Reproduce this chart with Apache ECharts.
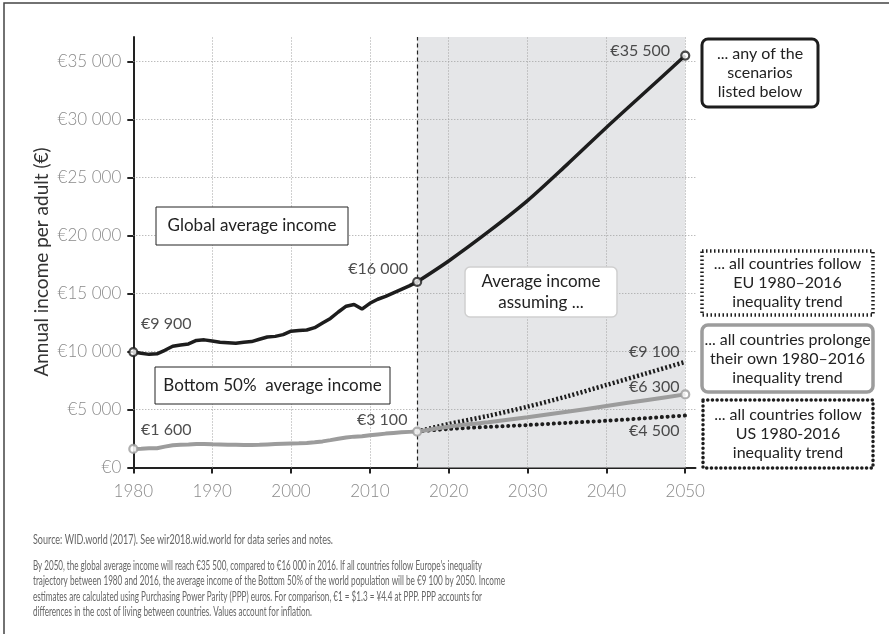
<!DOCTYPE html>
<html>
<head>
<meta charset="utf-8">
<script src="https://cdn.jsdelivr.net/npm/echarts@6/dist/echarts.min.js"></script>
<style>
html,body{margin:0;padding:0;background:#fff;}
#c{width:889px;height:634px;}
</style>
</head>
<body>
<div id="c"></div>
<script>
// ---------- DATA ----------
const histYears = [1980,1981,1982,1983,1984,1985,1986,1987,1988,1989,1990,1991,1992,1993,1994,1995,1996,1997,1998,1999,2000,2001,2002,2003,2004,2005,2006,2007,2008,2009,2010,2011,2012,2013,2014,2015,2016];
const globalHist = [9950,9850,9750,9800,10100,10450,10550,10650,10950,11000,10900,10800,10750,10700,10800,10850,11050,11250,11300,11450,11750,11800,11850,12050,12450,12850,13400,13900,14050,13650,14150,14500,14750,15050,15350,15650,16000];
const bottomHist = [1600,1620,1650,1660,1800,1920,1950,1980,2020,2030,2000,1980,1960,1950,1940,1940,1960,1990,2020,2050,2070,2090,2120,2170,2250,2360,2480,2590,2660,2700,2780,2850,2920,2980,3030,3070,3100];
const projYears = [2016,2020,2025,2030,2035,2040,2045,2050];
const globalProj = [16000,17800,20300,23000,26100,29300,32400,35500];
const bottomOwnProj = [3100,3520,3900,4330,4800,5300,5800,6300];
const bottomEUProj = [3100,3750,4450,5240,6130,7110,8100,9100];
const bottomUSProj = [3100,3320,3500,3660,3850,4030,4250,4480];
const xTicks = [1980,1990,2000,2010,2020,2030,2040,2050];
const yTicks = [0,5000,10000,15000,20000,25000,30000,35000];
const splitYear = 2016;
const endYear = 2050;
const globalLabels = [[1980,9950,'€9 900'],[2016,16000,'€16 000'],[2050,35500,'€35 500']];
const bottomLabels = [[1980,1600,'€1 600'],[2016,3100,'€3 100'],[2050,6300,'€6 300']];
const scenarioLabels = [[2050,9100,'€9 100'],[2050,4480,'€4 500']];
const yAxisTitle = 'Annual income per adult (€)';
const sourceText = 'Source: WID.world (2017). See wir2018.wid.world for data series and notes.';
const noteLines = [
 "By 2050, the global average income will reach €35 500, compared to €16 000 in 2016. If all countries follow Europe's inequality",
 "trajectory between 1980 and 2016, the average income of the Bottom 50% of the world population will be €9 100 by 2050. Income",
 "estimates are calculated using Purchasing Power Parity (PPP) euros. For comparison, €1 = $1.3 = ¥4.4 at PPP. PPP accounts for",
 "differences in the cost of living between countries. Values account for inflation."
];

// ---------- helpers ----------
const FONT = 'Lato';
const pair = (xs, ys) => xs.map((x, i) => [x, ys[i]]);
const fmtEuro = v => '€' + String(v).replace(/\B(?=(\d{3})+(?!\d))/g, ' ');
const BLACK = '#1d1d1d', GRAY = '#9c9c9c';

const labelOffsets = {
  '€9 900':[33,-28], '€16 000':[-39,-13], '€35 500':[-45,-5],
  '€1 600':[33,-19], '€3 100':[-35,-12], '€6 300':[-31,-8],
  '€9 100':[-31,-10], '€4 500':[-31,15]
};
function labelPoints(list){
  return list.map(d => ({value:[d[0], d[1]], label:{formatter:d[2], offset:labelOffsets[d[2]]}}));
}

const FOOT_SIZE = 13;
const mctx = document.createElement('canvas').getContext('2d');
mctx.font = FOOT_SIZE + 'px Lato';
const widthOf = t => mctx.measureText(t).width;

const chart = echarts.init(document.getElementById('c'), null, {renderer:'canvas'});

const graphics = [];
graphics.push({type:'rect', shape:{x:4, y:3, width:1000, height:1000}, style:{fill:'none', stroke:'#444', lineWidth:1.5}, silent:true, z:0});
function box(x, y, w, h, text, stroke, lw, dash, cap, r, lh, fs){
  graphics.push({type:'rect', shape:{x:x, y:y, width:w, height:h, r:r||0},
    style:{fill:'#fff', stroke:stroke, lineWidth:lw, lineDash:dash||null, lineCap:cap||'butt'}, z:100});
  graphics.push({type:'text', x:x + w/2, y:y + h/2, z:101,
    style:{text:text, fill:'#222', fontSize:fs||16, fontFamily:FONT, align:'center', verticalAlign:'middle', lineHeight:lh||19}});
}
box(156, 207, 192, 38, 'Global average income', '#222', 1, null, null, 0, 19, 17);
box(155, 367, 235, 37, 'Bottom 50%  average income', '#222', 1, null, null, 0, 19, 17);
box(465, 267, 152, 50, 'Average income\nassuming ...', '#cfcfcf', 1.5, null, null, 5, 21, 17);
box(702, 39, 116, 68, '... any of the\nscenarios\nlisted below', BLACK, 3, null, null, 6, 19);
box(702, 251, 171, 64, '... all countries follow\nEU 1980–2016\ninequality trend', BLACK, 3.5, [1.5, 2.5], 'butt', 0, 19);
box(702, 325, 171, 67, '... all countries prolonge\ntheir own 1980–2016\ninequality trend', GRAY, 3.5, null, null, 6, 19);
box(703, 400, 170, 68, '... all countries follow\nUS 1980-2016\ninequality trend', BLACK, 3.5, [0.1, 4.6], 'round', 0, 19);

graphics.push({type:'text', x:42, y:262, rotation:Math.PI/2, z:50,
  style:{text:yAxisTitle, fill:'#333', fontSize:19, fontFamily:FONT, align:'center', verticalAlign:'middle'}});

function footLine(t, y, targetW){
  graphics.push({type:'text', x:33, y:y, scaleX:targetW / widthOf(t),
    style:{text:t, fill:'#666', fontSize:FOOT_SIZE, fontFamily:FONT, verticalAlign:'middle'}});
}
footLine(sourceText, 540, 300);
const noteWidths = [449, 472, 449, 279];
noteLines.forEach((t, i) => footLine(t, 566 + i*15.3, noteWidths[i]));

const option = {
  backgroundColor:'#fff',
  animation:false,
  textStyle:{fontFamily:FONT},
  grid:{left:133.3, right:193.5, top:37, bottom:166.5, containLabel:false},
  xAxis:{
    type:'value', min:1980, max:2051.3, interval:10,
    axisLine:{lineStyle:{color:'#222', width:2}},
    axisTick:{show:true, length:6, lineStyle:{color:'#222', width:2}, customValues:xTicks},
    axisLabel:{color:'#8a8a8a', fontSize:17, fontWeight:300, margin:16, customValues:xTicks,
      formatter:v => xTicks.indexOf(v) >= 0 ? String(v) : ''},
    splitLine:{show:false}
  },
  yAxis:{
    type:'value', min:0, max:37100, interval:5000,
    axisLine:{show:true, lineStyle:{color:'#222', width:2}},
    axisTick:{show:true, length:6, lineStyle:{color:'#222', width:2}, customValues:yTicks},
    axisLabel:{color:'#8a8a8a', fontSize:17, fontWeight:300, margin:12, customValues:yTicks,
      formatter:v => yTicks.indexOf(v) >= 0 ? fmtEuro(v) : ''},
    splitLine:{show:false}
  },
  graphic:graphics,
  series:[
    {type:'line', data:[], silent:true, z:1,
      markArea:{silent:true, itemStyle:{color:'#e5e6e8'}, data:[[{xAxis:splitYear},{xAxis:endYear}]]}},
    {type:'line', data:[], silent:true, z:2,
      markLine:{silent:true, symbol:'none', label:{show:false},
        lineStyle:{color:'#a0a0a0', type:[1,2], width:1},
        data:[].concat(
          xTicks.filter(v => v > 1980).map(v => ({xAxis:v})),
          yTicks.filter(v => v > 0).map(v => ({yAxis:v})),
          [{xAxis:splitYear, lineStyle:{color:'#222', type:[4,3], width:1.2}}]
        )}},
    {type:'line', data:pair(projYears, bottomEUProj), smooth:0.3, showSymbol:false, z:5,
      lineStyle:{color:BLACK, width:4.5, type:[2, 2.2], cap:'butt'}},
    {type:'line', data:pair(projYears, bottomUSProj), smooth:0.3, showSymbol:false, z:5,
      lineStyle:{color:BLACK, width:4, type:[0.1, 5.6], cap:'round'}},
    {type:'line', data:pair(projYears, bottomOwnProj), smooth:0.3, showSymbol:false, z:6,
      lineStyle:{color:GRAY, width:4}},
    {type:'line', data:pair(histYears, bottomHist), showSymbol:false, z:6,
      lineStyle:{color:GRAY, width:4}},
    {type:'line', data:pair(projYears, globalProj), smooth:0.3, showSymbol:false, z:7,
      lineStyle:{color:BLACK, width:3.5}},
    {type:'line', data:pair(histYears, globalHist), showSymbol:false, z:7,
      lineStyle:{color:BLACK, width:3.5}},
    {type:'scatter', data:labelPoints(bottomLabels), z:9, symbol:'circle', symbolSize:8,
      itemStyle:{color:'#fff', borderColor:GRAY, borderWidth:2.2},
      label:{show:true, position:'inside', color:'#222', fontSize:16, fontFamily:FONT}},
    {type:'scatter', data:labelPoints(globalLabels), z:9, symbol:'circle', symbolSize:8,
      itemStyle:{color:'#fff', borderColor:BLACK, borderWidth:2.2},
      label:{show:true, position:'inside', color:'#222', fontSize:16, fontFamily:FONT}},
    {type:'scatter', data:labelPoints(scenarioLabels), z:9, symbol:'circle', symbolSize:1,
      itemStyle:{color:'rgba(0,0,0,0)'},
      label:{show:true, position:'inside', color:'#222', fontSize:16, fontFamily:FONT}}
  ]
};
chart.setOption(option);
</script>
</body>
</html>
